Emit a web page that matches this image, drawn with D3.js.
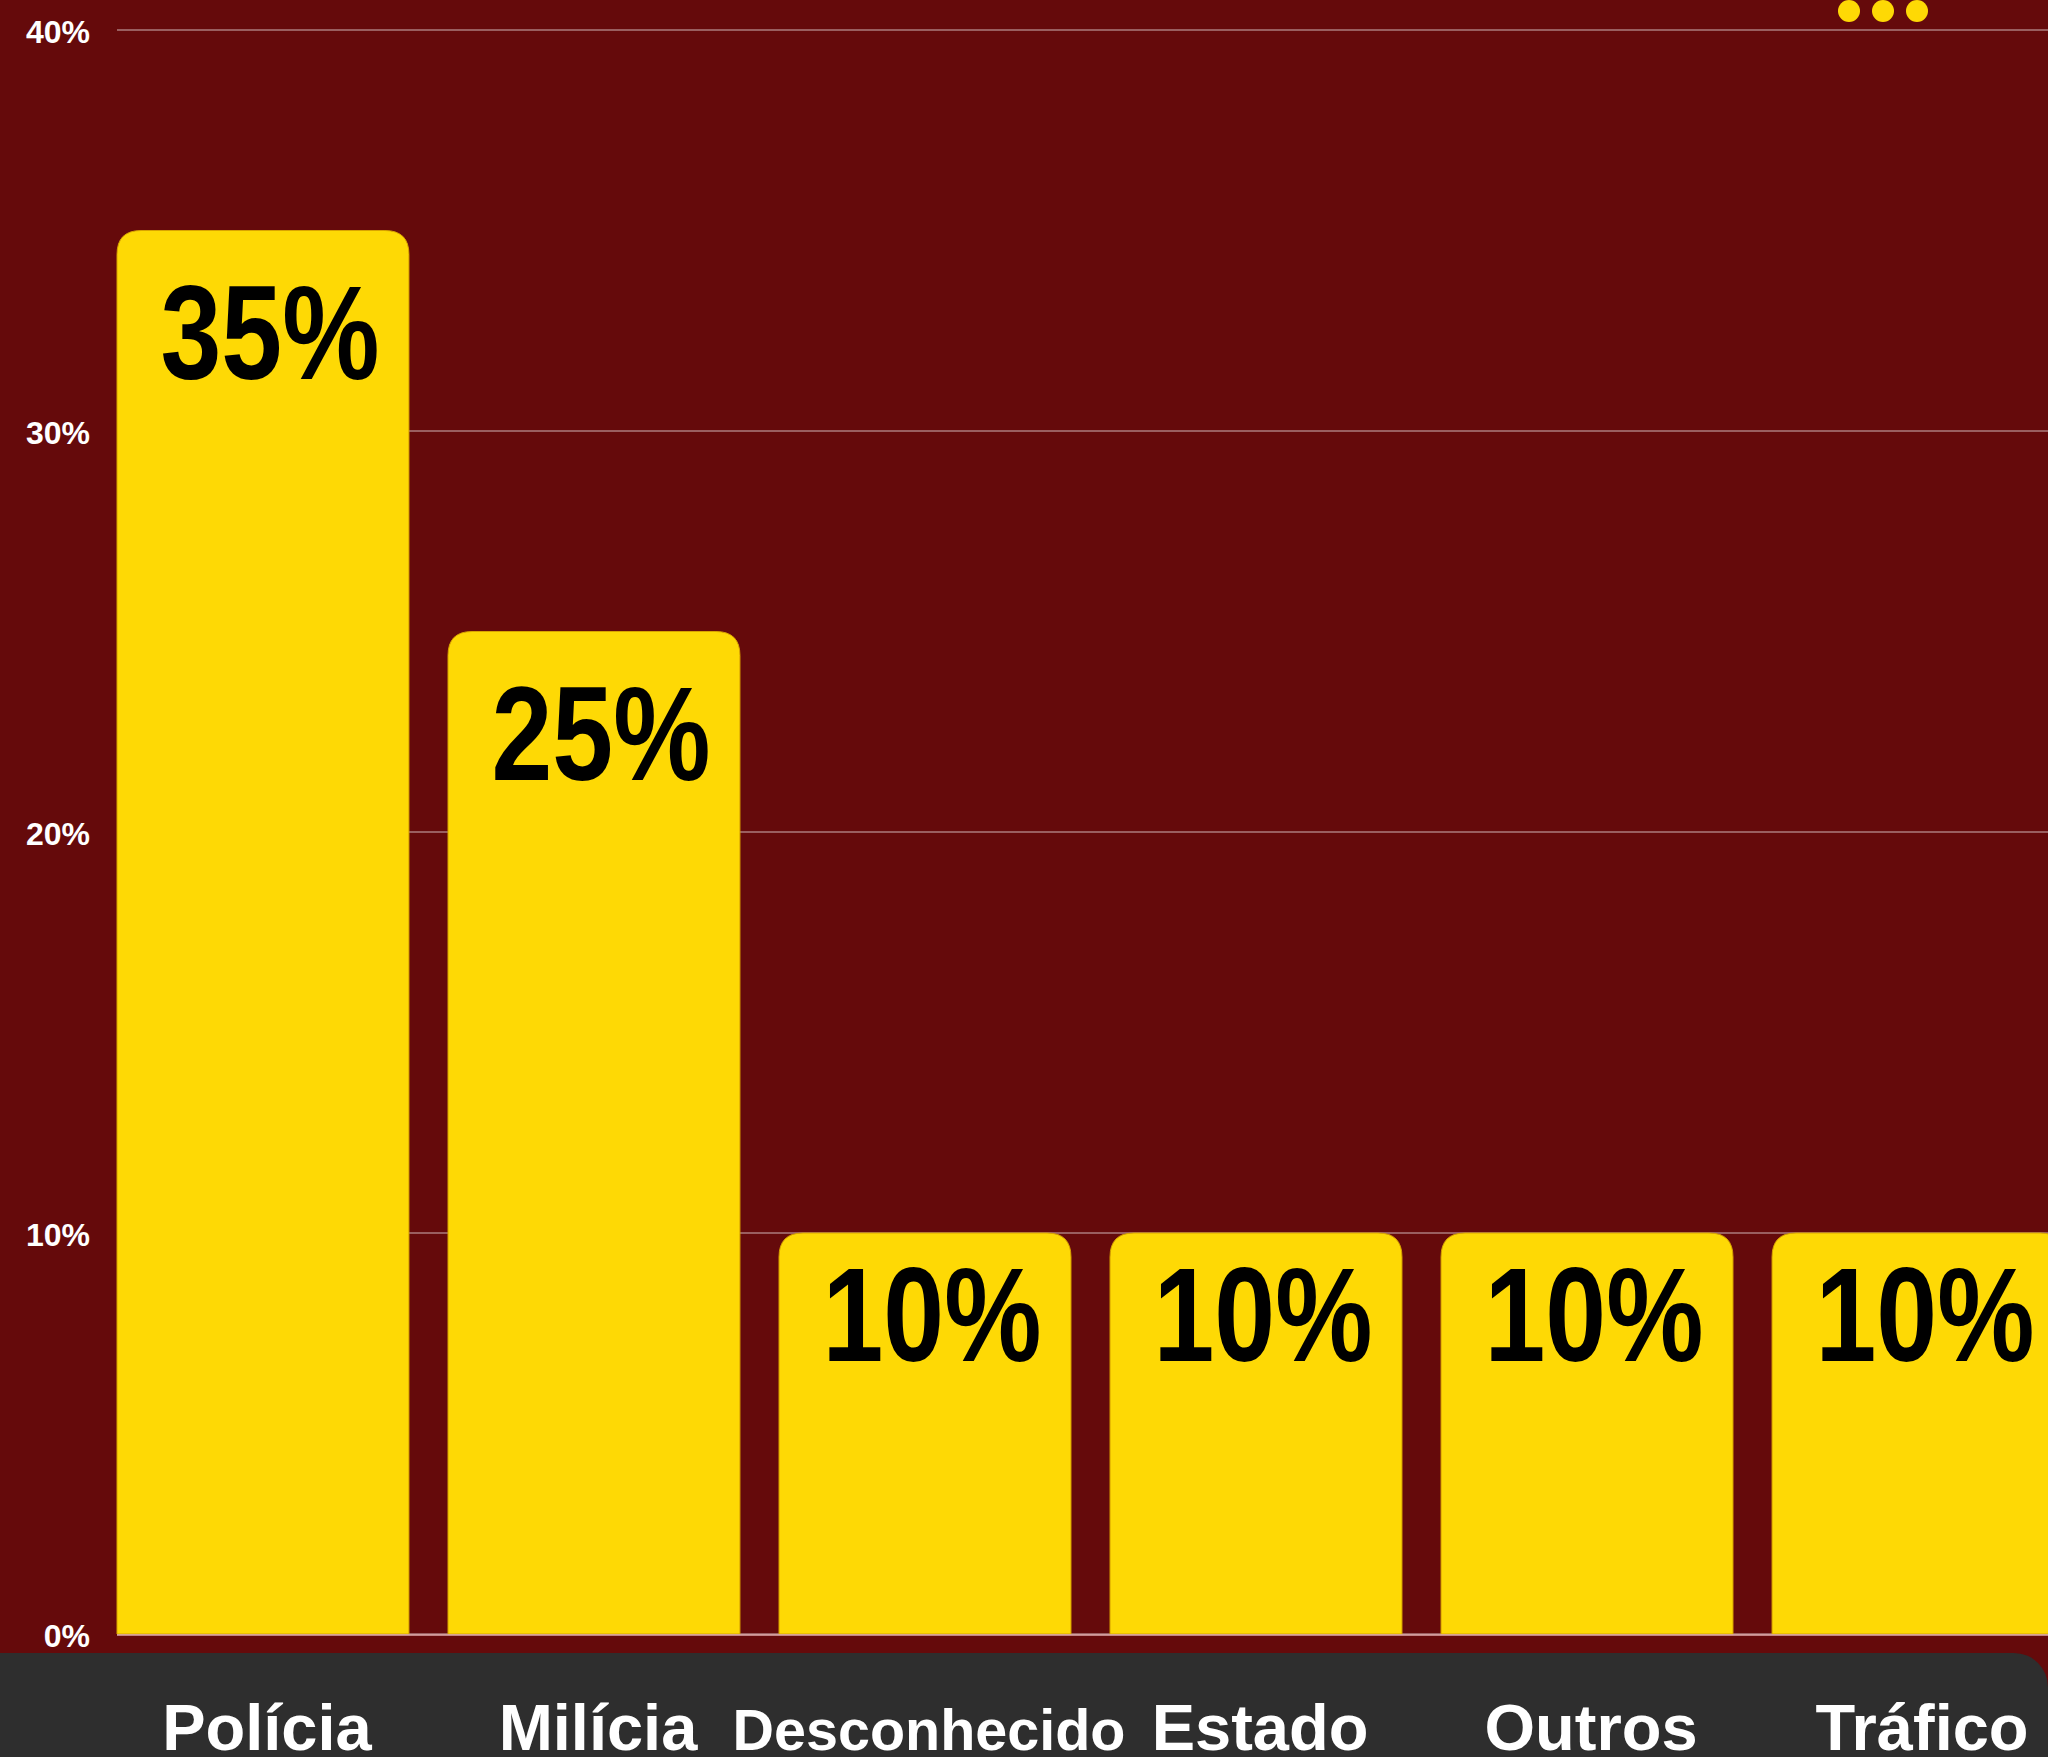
<!DOCTYPE html>
<html>
<head>
<meta charset="utf-8">
<script src="https://cdn.jsdelivr.net/npm/d3@7"></script>
<style>
  html, body { margin: 0; padding: 0; background: #650a0b; overflow: hidden; }
  svg { display: block; }
</style>
</head>
<body>
<svg id="chart" width="2048" height="1757"></svg>
<script>
const categories = ["Polícia", "Milícia", "Desconhecido", "Estado", "Outros", "Tráfico"];
const values = [35, 25, 10, 10, 10, 10];
const valueLabels = ["35%", "25%", "10%", "10%", "10%", "10%"];
const tickValues = [0, 10, 20, 30, 40];
const tickLabels = ["0%", "10%", "20%", "30%", "40%"];
const menuDots = [0, 1, 2];

const W = 2048, H = 1757;
const svg = d3.select("#chart");

svg.append("rect").attr("x", 0).attr("y", 0).attr("width", W).attr("height", H).attr("fill", "#650a0b");

const x = d3.scaleBand().domain(categories).range([117, 2064]).paddingInner(0.118).paddingOuter(0);
const y = d3.scaleLinear().domain([0, 40]).range([1634, 30]);

// bottom dark band
svg.append("rect")
  .attr("x", -40).attr("y", 1653).attr("width", W + 40).attr("height", 200)
  .attr("rx", 34).attr("fill", "#2e2e2e");

// gridlines
svg.append("g").selectAll("line").data(tickValues).join("line")
  .attr("x1", 117).attr("x2", W)
  .attr("y1", d => y(d)).attr("y2", d => y(d))
  .attr("stroke", "#ffffff").attr("stroke-opacity", 0.35).attr("stroke-width", 2);

// y axis labels
const yAxis = d3.axisLeft(y).tickValues(tickValues).tickSize(0).tickPadding(27)
  .tickFormat((d, i) => tickLabels[i]);
const gy = svg.append("g").attr("transform", "translate(117,0)").call(yAxis);
gy.select(".domain").remove();
gy.selectAll("text")
  .attr("dy", "0.4em")
  .attr("fill", "#ffffff")
  .style("font-family", "'Liberation Sans', Arial, sans-serif")
  .style("font-weight", "bold")
  .style("font-size", "32px");

// bars with rounded top corners
function barPath(x0, w, yTop, yBase, r) {
  return `M${x0},${yBase} L${x0},${yTop + r} Q${x0},${yTop} ${x0 + r},${yTop} ` +
         `L${x0 + w - r},${yTop} Q${x0 + w},${yTop} ${x0 + w},${yTop + r} L${x0 + w},${yBase} Z`;
}
const data = categories.map((c, i) => ({ c, v: values[i], label: valueLabels[i] }));
svg.append("g").selectAll("path").data(data).join("path")
  .attr("d", d => barPath(x(d.c), x.bandwidth(), y(d.v), y(0), 24))
  .attr("fill", "#fed905")
  .attr("stroke", "#d9a400").attr("stroke-width", 1);

// baseline
svg.append("line").attr("x1", 117).attr("x2", W).attr("y1", y(0) + 1).attr("y2", y(0) + 1)
  .attr("stroke", "#e8b8b8").attr("stroke-opacity", 0.7).attr("stroke-width", 2);

// value labels (condensed look)
svg.append("g").selectAll("text").data(data).join("text")
  .attr("x", d => x(d.c) + x.bandwidth() / 2 + 7)
  .attr("y", d => y(d.v) + (y(0) - y(d.v) > 600 ? 148 : 128))
  .attr("text-anchor", "middle")
  .attr("textLength", 219)
  .attr("lengthAdjust", "spacingAndGlyphs")
  .attr("fill", "#000000")
  .style("font-family", "'Liberation Sans', Arial, sans-serif")
  .style("font-weight", "bold")
  .style("font-size", "134px")
  .text(d => d.label);

// category labels
const cat = svg.append("g").selectAll("text").data(categories).join("text")
  .attr("x", d => x(d) + x.bandwidth() / 2 + 4)
  .attr("y", 1750)
  .attr("text-anchor", "middle")
  .attr("fill", "#ffffff")
  .style("font-family", "'Liberation Sans', Arial, sans-serif")
  .style("font-weight", "bold")
  .style("font-size", "65px")
  .text(d => d);
cat.each(function () {
  const len = this.getComputedTextLength();
  if (len > 395) d3.select(this).style("font-size", (65 * 393 / len) + "px");
});

// menu dots
const dx = d3.scaleLinear().domain([0, 2]).range([1849, 1917]);
svg.append("g").selectAll("circle").data(menuDots).join("circle")
  .attr("cx", d => dx(d)).attr("cy", 11).attr("r", 11)
  .attr("fill", "#fed905");
</script>
</body>
</html>
